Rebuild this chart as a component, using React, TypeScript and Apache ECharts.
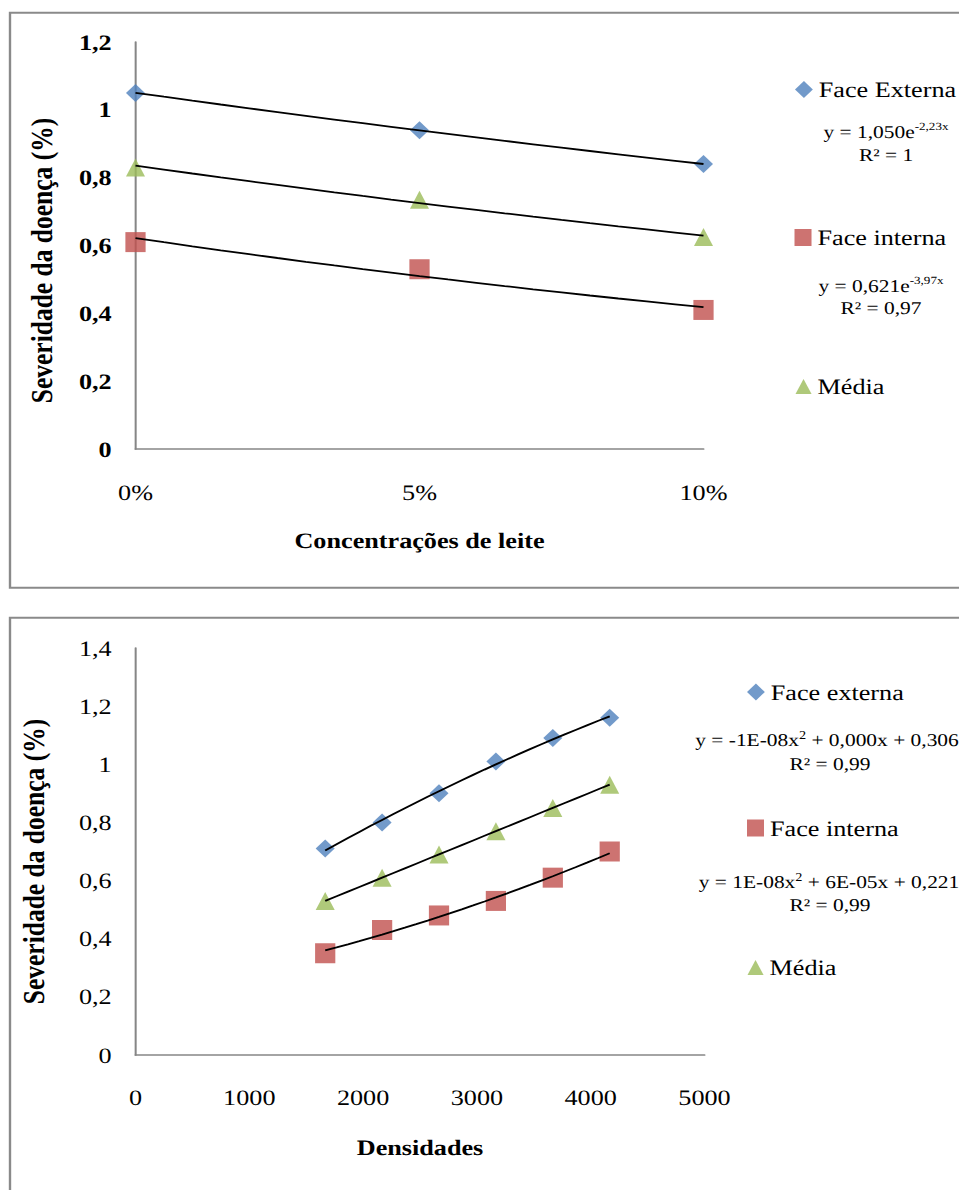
import React, { useEffect, useRef } from 'react';
import * as echarts from 'echarts';

// The reference picture is stretched horizontally; the chart is drawn in a
// narrower space and stretched by S so glyphs and marks keep that look.
const S = 1.19;
const PAGE_W = 959;
const PAGE_H = 1190;
const FONT = "'Liberation Serif', 'Times New Roman', serif";

// ---------- Chart 1: Concentrações de leite ----------
const concentrations = [0, 5, 10]; // %
const concExterna = [1.05, 0.94, 0.84];
const concInterna = [0.61, 0.53, 0.41];
const concMedia = [0.83, 0.735, 0.625];
const names1 = ['Face Externa', 'Face interna', 'Média'];

// ---------- Chart 2: Densidades ----------
const densidades = [1667, 2167, 2667, 3167, 3667, 4167];
const densExterna = [0.71, 0.8, 0.9, 1.01, 1.09, 1.16];
const densInterna = [0.35, 0.43, 0.48, 0.53, 0.61, 0.7];
const densMedia = [0.53, 0.61, 0.69, 0.77, 0.85, 0.93];
const names2 = ['Face externa', 'Face interna', 'Média'];

const COLORS = ['#4F81BD', '#C0504D', '#9BBB59'];
const SYMBOLS = ['diamond', 'rect', 'triangle'];
const SYMBOL_SIZES = [[16, 18], [17, 20], [16, 18]];
const LEGEND_SIZES = [[15, 17], [14.3, 17], [13.5, 15]];

// Least-squares exponential fit y = a e^(b x)
function expFit(xs: number[], ys: number[]) {
  const n = xs.length;
  const ly = ys.map((v) => Math.log(v));
  const mx = xs.reduce((s, v) => s + v, 0) / n;
  const my = ly.reduce((s, v) => s + v, 0) / n;
  let num = 0;
  let den = 0;
  for (let i = 0; i < n; i++) {
    num += (xs[i] - mx) * (ly[i] - my);
    den += (xs[i] - mx) * (xs[i] - mx);
  }
  const b = num / den;
  const a = Math.exp(my - b * mx);
  return { a, b };
}

// Least-squares quadratic fit y = c0 + c1 t + c2 t^2 with t = x / 1000
function quadFit(xs: number[], ys: number[]) {
  const t = xs.map((v) => v / 1000);
  const s = [0, 0, 0, 0, 0];
  const r = [0, 0, 0];
  for (let i = 0; i < t.length; i++) {
    for (let k = 0; k < 5; k++) s[k] += Math.pow(t[i], k);
    for (let k = 0; k < 3; k++) r[k] += ys[i] * Math.pow(t[i], k);
  }
  const m = [
    [s[0], s[1], s[2], r[0]],
    [s[1], s[2], s[3], r[1]],
    [s[2], s[3], s[4], r[2]],
  ];
  for (let c = 0; c < 3; c++) {
    let p = c;
    for (let i = c + 1; i < 3; i++) if (Math.abs(m[i][c]) > Math.abs(m[p][c])) p = i;
    [m[c], m[p]] = [m[p], m[c]];
    for (let i = 0; i < 3; i++) {
      if (i === c) continue;
      const f = m[i][c] / m[c][c];
      for (let j = c; j < 4; j++) m[i][j] -= f * m[c][j];
    }
  }
  const c = [m[0][3] / m[0][0], m[1][3] / m[1][1], m[2][3] / m[2][2]];
  return (x: number) => {
    const tt = x / 1000;
    return c[0] + c[1] * tt + c[2] * tt * tt;
  };
}

function steps(min: number, max: number, n: number) {
  const out: number[] = [];
  for (let i = 0; i <= n; i++) out.push(min + ((max - min) * i) / n);
  return out;
}

const commaFmt = (v: number) => String(Math.round(v * 10) / 10).replace('.', ',');
const plainFmt = (v: number) => String(Math.round(v));

function buildOption() {
  const series: any[] = [];
  const set1 = [concExterna, concInterna, concMedia];
  const set2 = [densExterna, densInterna, densMedia];

  set1.forEach((ys, i) => {
    series.push({
      type: 'scatter',
      name: names1[i],
      xAxisIndex: 0,
      yAxisIndex: 0,
      symbol: SYMBOLS[i],
      symbolSize: SYMBOL_SIZES[i],
      itemStyle: { color: COLORS[i] },
      z: 2,
      data: concentrations.map((x, k) => [x, ys[k]]),
    });
    const fit = expFit(concentrations.map((x) => x / 100), ys);
    const xs = steps(concentrations[0], concentrations[concentrations.length - 1], 20);
    series.push({
      type: 'line',
      name: 'trend1-' + i,
      xAxisIndex: 0,
      yAxisIndex: 0,
      showSymbol: false,
      symbol: 'none',
      silent: true,
      z: 3,
      lineStyle: { color: '#000', width: 1.8 },
      data: xs.map((x) => [x, fit.a * Math.exp((fit.b * x) / 100)]),
    });
  });

  set2.forEach((ys, i) => {
    series.push({
      type: 'scatter',
      name: names2[i],
      xAxisIndex: 1,
      yAxisIndex: 1,
      symbol: SYMBOLS[i],
      symbolSize: SYMBOL_SIZES[i],
      itemStyle: { color: COLORS[i] },
      z: 2,
      data: densidades.map((x, k) => [x, ys[k]]),
    });
    const f = quadFit(densidades, ys);
    const xs = steps(densidades[0], densidades[densidades.length - 1], 25);
    series.push({
      type: 'line',
      name: 'trend2-' + i,
      xAxisIndex: 1,
      yAxisIndex: 1,
      showSymbol: false,
      symbol: 'none',
      silent: true,
      z: 3,
      lineStyle: { color: '#000', width: 1.8 },
      data: xs.map((x) => [x, f(x)]),
    });
  });

  const axisLine = { show: true, onZero: false, lineStyle: { color: '#868686', width: 1.7 } };

  const legendAt = (name: string, idx: number, leftPage: number, cy: number) => ({
    data: [name],
    left: leftPage / S,
    top: cy - LEGEND_SIZES[idx][1] / 2,
    padding: 0,
    itemWidth: LEGEND_SIZES[idx][0],
    itemHeight: LEGEND_SIZES[idx][1],
    selectedMode: false,
    textStyle: { fontFamily: FONT, fontSize: 22, color: '#000', lineHeight: LEGEND_SIZES[idx][1] },
  });

  const eqText = (text: string, xPage: number, y: number) => ({
    type: 'text',
    x: xPage / S,
    y,
    silent: true,
    style: {
      text,
      fontFamily: FONT,
      fontSize: 18,
      fill: '#000',
      align: 'center',
      verticalAlign: 'middle',
      rich: {
        m: { fontFamily: FONT, fontSize: 18, lineHeight: 22, verticalAlign: 'middle', fill: '#000' },
        sup: { fontFamily: FONT, fontSize: 11, lineHeight: 11, verticalAlign: 'top', fill: '#000' },
        sq: { fontFamily: FONT, fontSize: 12, lineHeight: 12, verticalAlign: 'top', fill: '#000' },
      },
    },
  });

  return {
    animation: false,
    grid: [
      { left: 135.5 / S, top: 42, width: 568 / S, height: 407, outerBoundsMode: 'none' },
      { left: 135.5 / S, top: 648, width: 569 / S, height: 407, outerBoundsMode: 'none' },
    ],
    xAxis: [
      {
        type: 'value',
        gridIndex: 0,
        min: 0,
        max: 10,
        interval: 5,
        axisLine,
        axisTick: { show: false },
        splitLine: { show: false },
        axisLabel: { formatter: '{value}%', fontFamily: FONT, fontSize: 22, color: '#000', margin: 32 },
        name: 'Concentrações de leite',
        nameLocation: 'middle',
        nameGap: 80,
        nameTextStyle: { fontFamily: FONT, fontSize: 22, fontWeight: 'bold', color: '#000' },
      },
      {
        type: 'value',
        gridIndex: 1,
        min: 0,
        max: 5000,
        interval: 1000,
        axisLine,
        axisTick: { show: false },
        splitLine: { show: false },
        axisLabel: { formatter: plainFmt, fontFamily: FONT, fontSize: 22, color: '#000', margin: 31 },
        name: 'Densidades',
        nameLocation: 'middle',
        nameGap: 81,
        nameTextStyle: { fontFamily: FONT, fontSize: 22, fontWeight: 'bold', color: '#000' },
      },
    ],
    yAxis: [
      {
        type: 'value',
        gridIndex: 0,
        min: 0,
        max: 1.2,
        interval: 0.2,
        axisLine,
        axisTick: { show: false },
        splitLine: { show: false },
        axisLabel: { formatter: commaFmt, fontFamily: FONT, fontSize: 22, fontWeight: 'bold', color: '#000', margin: 20 },
        name: 'Severidade da doença (%)',
        nameLocation: 'middle',
        nameGap: 66,
        nameTextStyle: { fontFamily: FONT, fontSize: 25.5, fontWeight: 'bold', color: '#000', padding: [0, 30, 0, 0] },
      },
      {
        type: 'value',
        gridIndex: 1,
        min: 0,
        max: 1.4,
        interval: 0.2,
        axisLine,
        axisTick: { show: false },
        splitLine: { show: false },
        axisLabel: { formatter: commaFmt, fontFamily: FONT, fontSize: 22, color: '#000', margin: 20 },
        name: 'Severidade da doença (%)',
        nameLocation: 'middle',
        nameGap: 72,
        nameTextStyle: { fontFamily: FONT, fontSize: 25.5, fontWeight: 'bold', color: '#000', padding: [0, 20, 0, 0] },
      },
    ],
    legend: [
      legendAt(names1[0], 0, 795, 87),
      legendAt(names1[1], 1, 794.5, 235),
      legendAt(names1[2], 2, 795.5, 383),
      legendAt(names2[0], 0, 747, 689.5),
      legendAt(names2[1], 1, 747, 825.5),
      legendAt(names2[2], 2, 747.5, 964),
    ],
    graphic: {
      elements: [
        {
          type: 'rect',
          silent: true,
          z: -1,
          shape: { x: 10 / S, y: 12.7, width: 2000, height: 575 },
          style: { fill: 'transparent', stroke: '#8a8a8a', lineWidth: 2 },
        },
        {
          type: 'rect',
          silent: true,
          z: -1,
          shape: { x: 10 / S, y: 617.7, width: 2000, height: 1000 },
          style: { fill: 'transparent', stroke: '#8a8a8a', lineWidth: 2 },
        },
        eqText('{m|y = 1,050e}{sup|-2,23x}', 886, 132),
        eqText('R² = 1', 886, 155),
        eqText('{m|y = 0,621e}{sup|-3,97x}', 881, 286),
        eqText('R² = 0,97', 881, 308),
        eqText('{m|y = -1E-08x}{sq|2}{m| + 0,000x + 0,306}', 827, 740),
        eqText('R² = 0,99', 830, 764),
        eqText('{m|y = 1E-08x}{sq|2}{m| + 6E-05x + 0,221}', 829, 882),
        eqText('R² = 0,99', 830, 905),
      ],
    },
    series,
  };
}

export default function App() {
  const ref = useRef<HTMLDivElement>(null);
  useEffect(() => {
    if (!ref.current) return;
    const chart = echarts.init(ref.current, null, { renderer: 'svg' });
    chart.setOption(buildOption() as any);
    return () => chart.dispose();
  }, []);
  return (
    <div
      style={{
        position: 'absolute',
        left: 0,
        top: 0,
        width: PAGE_W,
        height: PAGE_H,
        overflow: 'hidden',
        background: '#fff',
        textRendering: 'geometricPrecision',
      }}
    >
      <div
        ref={ref}
        style={{
          width: PAGE_W / S,
          height: PAGE_H,
          transform: `scaleX(${S})`,
          transformOrigin: '0 0',
          textRendering: 'geometricPrecision',
        }}
      />
    </div>
  );
}
